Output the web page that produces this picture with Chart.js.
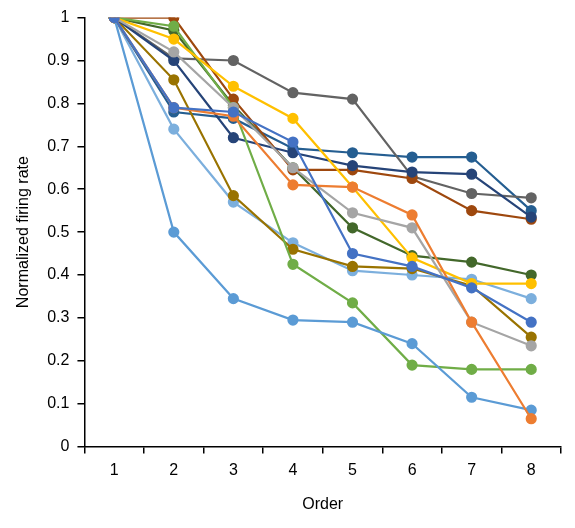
<!DOCTYPE html>
<html>
<head>
<meta charset="utf-8">
<script src="https://cdn.jsdelivr.net/npm/chart.js@4"></script>
<style>
    body { margin: 0; background: #fff; }
    #wrap { width: 575px; height: 528px; }
</style>
</head>
<body>
<div id="wrap"><canvas id="chart"></canvas></div>
<script>
const orders = ['1', '2', '3', '4', '5', '6', '7', '8'];

const seriesBlue      = [1, 0.79, 0.78, 0.71, 0.45, 0.42, 0.37, 0.29];
const seriesOrange    = [1, 0.79, 0.77, 0.61, 0.605, 0.54, 0.29, 0.065];
const seriesGray      = [1, 0.92, 0.79, 0.65, 0.545, 0.51, 0.29, 0.235];
const seriesYellow    = [1, 0.95, 0.84, 0.765, 0.605, 0.44, 0.38, 0.38];
const seriesSky       = [1, 0.50, 0.345, 0.295, 0.29, 0.24, 0.115, 0.085];
const seriesGreen     = [1, 0.98, 0.79, 0.425, 0.335, 0.19, 0.18, 0.18];
const seriesNavy      = [1, 0.90, 0.72, 0.685, 0.655, 0.64, 0.635, 0.535];
const seriesBrown     = [1, 1.0, 0.81, 0.645, 0.645, 0.625, 0.55, 0.53];
const seriesDarkGray  = [1, 0.905, 0.90, 0.825, 0.81, 0.63, 0.59, 0.58];
const seriesOlive     = [1, 0.855, 0.585, 0.46, 0.42, 0.415, 0.375, 0.255];
const seriesSteel     = [1, 0.78, 0.765, 0.695, 0.685, 0.675, 0.675, 0.55];
const seriesDarkGreen = [1, 0.97, 0.795, 0.65, 0.51, 0.445, 0.43, 0.40];
const seriesPale      = [1, 0.74, 0.57, 0.475, 0.41, 0.40, 0.39, 0.345];

const series = [
    [seriesBlue, '#4472C4'],
    [seriesOrange, '#ED7D31'],
    [seriesGray, '#A5A5A5'],
    [seriesYellow, '#FFC000'],
    [seriesSky, '#5B9BD5'],
    [seriesGreen, '#70AD47'],
    [seriesNavy, '#264478'],
    [seriesBrown, '#9E480E'],
    [seriesDarkGray, '#636363'],
    [seriesOlive, '#997300'],
    [seriesSteel, '#255E91'],
    [seriesDarkGreen, '#43682B'],
    [seriesPale, '#7CAFDD']
];

const font = { family: 'Arial, "Liberation Sans", sans-serif', size: 16 };

new Chart(document.getElementById('chart'), {
    type: 'line',
    data: {
        labels: orders,
        datasets: series.map(([values, color]) => ({
            data: values,
            borderColor: color,
            backgroundColor: color,
            borderWidth: 2.2,
            pointRadius: 4.5,
            pointHoverRadius: 4.5,
            tension: 0
        }))
    },
    options: {
        responsive: true,
        maintainAspectRatio: false,
        animation: false,
        layout: { padding: { top: 10, right: 14, left: 10, bottom: 10 } },
        plugins: { legend: { display: false }, tooltip: { enabled: false } },
        scales: {
            x: {
                offset: true,
                grid: { offset: true, drawOnChartArea: false, color: '#000', tickLength: 7, lineWidth: 1.5 },
                border: { color: '#000', width: 1.5 },
                ticks: { color: '#000', font: font, padding: 7 },
                title: { display: true, text: 'Order', color: '#000', font: font, padding: { top: 8 } }
            },
            y: {
                min: 0,
                max: 1,
                ticks: { stepSize: 0.1, color: '#000', font: font, padding: 8, callback: v => Math.round(v * 10) / 10 },
                grid: { drawOnChartArea: false, color: '#000', tickLength: 7, lineWidth: 1.5 },
                border: { color: '#000', width: 1.5 },
                title: { display: true, text: 'Normalized firing rate', color: '#000', font: font, padding: { bottom: 6 } }
            }
        }
    }
});
</script>
</body>
</html>
